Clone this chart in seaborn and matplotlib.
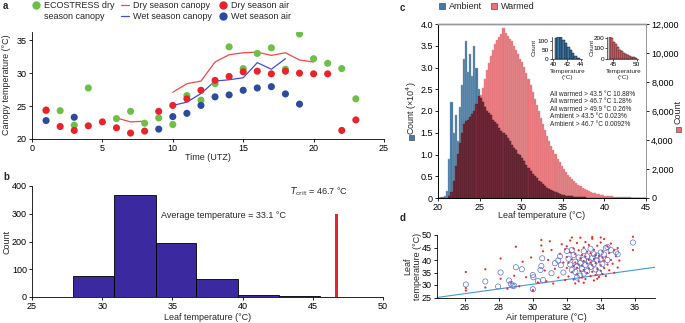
import numpy as np
import pandas as pd
import matplotlib
matplotlib.use("Agg")
import matplotlib.pyplot as plt
import seaborn as sns
from matplotlib.lines import Line2D
from matplotlib.patches import Patch, Rectangle

sns.set_theme(style="white")
plt.rcParams["font.family"] = ["Liberation Sans", "DejaVu Sans"]
plt.rcParams["font.size"] = 6.5
plt.rcParams["axes.linewidth"] = 0.6
plt.rcParams["xtick.major.width"] = 0.6
plt.rcParams["ytick.major.width"] = 0.6
plt.rcParams["xtick.major.size"] = 2.5
plt.rcParams["ytick.major.size"] = 2.5
plt.rcParams["xtick.direction"] = "out"
plt.rcParams["ytick.direction"] = "out"
plt.rcParams["xtick.major.pad"] = 1.2
plt.rcParams["ytick.major.pad"] = 1.2
plt.rcParams["xtick.bottom"] = True
plt.rcParams["ytick.left"] = True

FS = 6.5

# ---------------- panel a data ----------------
eco_hour = [1, 2, 3, 4, 6, 7, 8, 9, 10, 11, 12, 13, 14, 15, 16, 17, 18, 19, 20, 21, 22, 23]
eco_temp = [24.3, 24.3, 22.1, 27.75, 23.1, 24.2, 22.4, 23.2, 22.2, 26.6, 25.9, 28.4, 34.0, 30.7,
            33.0, 33.85, 30.6, 35.95, 32.2, 31.5, 30.7, 26.1]
dry_air_hour = [1, 2, 3, 4, 5, 6, 7, 8, 9, 10, 11, 12, 13, 14, 15, 16, 17, 18, 19, 20, 21, 22, 23]
dry_air_temp = [24.4, 21.9, 21.3, 22.0, 22.6, 21.7, 20.9, 21.2, 24.2, 25.1, 26.1, 27.4, 28.9, 29.5,
                30.2, 30.3, 29.9, 30.3, 30.0, 29.9, 29.9, 21.3, 22.9]
wet_air_hour = [1, 3, 9, 10, 11, 12, 13, 14, 15, 16, 17, 18, 19]
wet_air_temp = [22.8, 23.3, 21.5, 23.4, 23.9, 25.1, 26.4, 26.7, 27.4, 27.75, 27.95, 26.85, 25.3]
dry_can_hour = [6, 7, 8, 9, 10, 11, 12, 13, 14, 15, 16, 17, 18, 19, 20]
dry_can_temp = [23.2, 22.6, 22.7, np.nan, 27.1, 28.4, 28.8, 31.7, 32.8, 33.1, 33.2, 32.7, 33.1, 32.0, 31.7]
wet_can_hour = [10, 11, 12, 13, 14, 15, 16, 17, 18]
wet_can_temp = [25.1, 25.6, 26.9, 28.8, 29.0, 29.3, 31.6, 30.6, 32.2]

# ---------------- panel b data ----------------
b_edges = [27.9, 30.85, 33.8, 36.7, 39.65, 42.6, 45.5, 48.5]
b_counts = [75, 368, 193, 66, 8, 4, 1]
t_crit = 46.7
t_crit_height = 300

# ---------------- panel c data ----------------
c_edges = [round(20.0 + 0.25 * i, 2) for i in range(101)]
ambient_e4 = [0.01, 0.02, 0.03, 0.05, 0.15, 0.9, 2.2, 1.5, 1.9, 1.3,
              2.1, 2.6, 3.2, 3.6, 2.9, 3.3, 2.8, 3.5, 3.0, 2.5,
              2.3, 2.2, 2.1, 2.0, 1.95, 1.9, 1.8, 1.75, 1.7, 1.62,
              1.55, 1.5, 1.45, 1.38, 1.3, 1.22, 1.15, 1.1, 1.02, 0.98,
              0.93, 0.85, 0.75, 0.68, 0.62, 0.55, 0.5, 0.45, 0.4, 0.36,
              0.32, 0.28, 0.24, 0.21, 0.18, 0.15, 0.13, 0.11, 0.09, 0.08,
              0.06, 0.05, 0.045, 0.04, 0.035, 0.03, 0.025, 0.02, 0.018, 0.015,
              0.012, 0.01, 0.009, 0.008, 0.007, 0.006, 0.005, 0.005, 0.004, 0.004,
              0.003, 0.003, 0.003, 0.002, 0.002, 0.002, 0.002, 0.001, 0.001, 0.001,
              0.001, 0.001, 0.001, 0.001, 0.001, 0.0, 0.0, 0.0, 0.0, 0.0]
warmed = [0, 0, 0, 0, 30, 150, 400, 1200, 2200, 3000,
          3800, 4500, 5100, 5300, 5400, 5600, 5800, 6000, 6500, 7000,
          7100, 7600, 8200, 8800, 9300, 9800, 10200, 10600, 10900, 11100,
          11300, 11700, 11400, 11200, 11000, 10800, 10500, 10200, 9900, 9600,
          9400, 9000, 8600, 8200, 7800, 7300, 6800, 6400, 6000, 5500,
          5100, 4700, 4300, 3900, 3600, 3300, 3000, 2700, 2450, 2200,
          2000, 1800, 1600, 1450, 1300, 1150, 1020, 900, 800, 700,
          620, 550, 480, 420, 370, 320, 280, 250, 220, 190,
          170, 150, 130, 115, 100, 90, 80, 70, 60, 52,
          45, 40, 35, 30, 26, 22, 18, 15, 12, 10]
inset_amb_edges = [40.25, 40.6, 40.95, 41.3, 41.65, 42.0, 42.35, 42.7, 43.05, 43.4, 43.8]
inset_amb_counts = [120, 124, 124, 105, 90, 70, 50, 32, 18, 8]
inset_warm_edges = [44.1, 44.52, 44.94, 45.36, 45.78, 46.2, 46.62, 47.04, 47.46, 47.88, 48.3,
                    48.72, 49.14, 49.56, 50.0]
inset_warm_counts = [205, 200, 165, 140, 110, 90, 75, 60, 45, 35, 28, 20, 15, 10]
stats_lines = ["All warmed > 43.5 °C 10.88%", "All warmed > 46.7 °C 1.28%",
               "All warmed > 49.9 °C 0.26%", "Ambient > 43.5 °C 0.023%",
               "Ambient > 46.7 °C 0.0092%"]

# ---------------- panel d data ----------------
circ_air = [26.05, 27.2, 27.95, 28.1, 28.6, 28.7, 28.8, 28.9, 29.0, 29.35, 30.0, 30.0, 30.03,
            30.5, 30.55, 30.45, 30.6, 30.3, 31.1, 31.3, 31.5, 31.65, 32.0,
            32.1, 32.2, 32.3, 32.4, 32.5, 32.5, 32.6, 32.7, 32.8, 32.8, 32.9, 33.0, 33.0, 33.1,
            33.2, 33.2, 33.3, 33.4, 33.4, 33.5, 33.6, 33.6, 33.7, 33.8, 33.8, 33.9, 34.0, 34.0,
            34.1, 34.2, 34.3, 34.4, 34.4, 34.6, 34.9, 35.0, 35.9, 32.3, 32.6, 33.0, 31.8, 31.6]
circ_leaf = [30.2, 31.4, 29.4, 35.0, 31.8, 30.5, 29.7, 29.7, 37.1, 36.3, 28.3, 34.0, 33.1,
             37.6, 40.7, 36.0, 32.0, 31.6, 34.7, 38.7, 39.8, 37.9, 43.6,
             40.5, 38.2, 36.0, 42.0, 39.3, 35.2, 37.5, 41.0, 38.8, 33.8, 36.5, 40.2, 43.5, 38.0,
             35.5, 41.5, 39.5, 37.2, 44.5, 40.8, 38.5, 42.3, 36.2, 39.8, 41.8, 35.0, 40.5, 43.0,
             38.3, 42.2, 44.8, 40.0, 45.2, 44.0, 43.2, 42.3, 47.0, 44.0, 33.0, 34.5, 35.0, 41.5]
dot_air = [26.05, 26.05, 26.05, 27.2, 27.2, 28.1, 28.1, 28.5, 28.7, 28.9, 29.0, 29.2, 29.4, 29.6,
           29.9, 30.0, 30.0, 30.3, 30.5, 30.5, 30.6, 30.7, 30.8, 30.9, 31.0, 31.1, 31.2, 31.3,
           31.5, 31.6, 31.7, 31.8, 31.9,
           32.0, 32.0, 32.0, 32.1, 32.1, 32.2, 32.2, 32.3, 32.3, 32.4, 32.4, 32.4, 32.5, 32.5,
           32.6, 32.6, 32.6, 32.7, 32.7, 32.7, 32.8, 32.8, 32.8, 32.9, 32.9, 32.9, 33.0, 33.0,
           33.0, 33.1, 33.1, 33.1, 33.2, 33.2, 33.2, 33.3, 33.3, 33.3, 33.4, 33.4, 33.4, 33.5,
           33.5, 33.5, 33.6, 33.6, 33.6, 33.7, 33.7, 33.7, 33.8, 33.8, 33.9, 33.9, 33.9, 34.0,
           34.0, 34.0, 34.1, 34.1, 34.1, 34.2, 34.2, 34.2, 34.3, 34.3, 34.4, 34.4, 34.5, 34.5,
           34.6, 34.6, 34.7, 34.8, 34.9, 35.0, 35.1, 35.9, 35.9, 32.5, 33.0, 33.8, 34.8, 35.0,
           31.9, 32.3, 33.5, 34.0]
dot_leaf = [35.2, 27.8, 28.8, 36.3, 29.0, 40.6, 32.5, 28.5, 31.0, 33.7, 45.3, 29.5, 39.3, 33.1,
            41.0, 28.0, 27.6, 31.0, 48.0, 45.8, 43.5, 35.8, 31.5, 40.0, 47.5, 44.0, 30.6, 36.5,
            33.0, 42.5, 46.3, 39.0, 32.0,
            36.8, 41.2, 45.5, 33.4, 38.9, 43.0, 47.8, 35.1, 40.3, 32.2, 37.6, 44.6, 39.0, 42.4,
            34.3, 36.9, 46.8, 31.5, 38.2, 43.9, 35.6, 40.7, 48.9, 33.0, 37.8, 42.0, 36.0, 39.6,
            45.0, 32.4, 41.4, 47.2, 34.8, 38.6, 43.3, 36.7, 40.1, 46.0, 33.6, 39.0, 42.7, 35.3,
            37.9, 48.5, 31.8, 40.4, 44.1, 34.0, 38.7, 42.0, 36.4, 45.7, 33.2, 39.3, 41.6, 35.7,
            37.9, 47.0, 34.4, 40.9, 43.6, 36.8, 39.7, 48.4, 33.6, 41.3, 38.2, 45.4, 35.9, 42.8,
            40.0, 46.6, 38.5, 43.9, 41.5, 44.8, 39.8, 49.3, 44.0, 30.6, 30.9, 32.5, 34.9, 37.0,
            44.3, 49.0, 49.2, 49.0]
ref_air = [24.35, 37.2]
ref_leaf = [25.0, 37.1]

# ---------------- colours ----------------
GREEN = "#6cbf47"
RED = "#e8232b"
BLUE = "#2c4a9e"
RED_LINE = "#f2474a"
BLUE_LINE = "#3f4fd6"
BAR_B = "#3b2a9f"
AMB = "#3f7aa8"
WARM = "#ef7075"
OVER = "#7b2a3d"

W, H = 685, 323
fig = plt.figure(figsize=(W / 100, H / 100), dpi=100)


def pax(l, t, r, b):
    return fig.add_axes([l / W, 1 - b / H, (r - l) / W, (b - t) / H])


def ftext(x, y, s, **kw):
    return fig.text(x / W, 1 - y / H, s, **kw)


def style_lb(ax):
    sns.despine(ax=ax)
    for s in ("left", "bottom"):
        ax.spines[s].set_color("black")
    ax.tick_params(colors="black", labelsize=FS, length=2.5)


def centers_of(edges):
    return [(edges[i] + edges[i + 1]) / 2 for i in range(len(edges) - 1)]


# ================= panel a =================
axa = pax(32, 31.7, 384, 139)
axa.plot(dry_can_hour, dry_can_temp, color=RED_LINE, lw=0.9, zorder=2)
axa.plot(wet_can_hour, wet_can_temp, color=BLUE_LINE, lw=0.9, zorder=2)
sns.scatterplot(x=eco_hour, y=eco_temp, ax=axa, color=GREEN, s=26, edgecolor="none", zorder=3)
sns.scatterplot(x=dry_air_hour, y=dry_air_temp, ax=axa, color=RED, s=26, edgecolor="none", zorder=4)
sns.scatterplot(x=wet_air_hour, y=wet_air_temp, ax=axa, color=BLUE, s=26, edgecolor="none", zorder=4)
axa.set_xlim(0, 25)
axa.set_ylim(20, 36.3)
axa.set_xticks([0, 5, 10, 15, 20, 25])
axa.set_yticks([20, 25, 30, 35])
style_lb(axa)
ftext(208, 157, "Time (UTZ)", ha="center", va="center", fontsize=FS)
ftext(7, 85, "Canopy temperature (°C)", ha="center", va="center", rotation=90, fontsize=FS)

handles = [
    Line2D([], [], marker="o", ls="", color=GREEN, markersize=5),
    Line2D([], [], ls="", marker=""),
    Line2D([], [], color=RED_LINE, lw=0.9),
    Line2D([], [], color=BLUE_LINE, lw=0.9),
    Line2D([], [], marker="o", ls="", color=RED, markersize=5),
    Line2D([], [], marker="o", ls="", color=BLUE, markersize=5),
]
labels = ["ECOSTRESS dry", "season canopy", "Dry season canopy", "Wet season canopy",
          "Dry season air", "Wet season air"]
fig.legend(handles, labels, ncol=3, loc="upper left", bbox_to_anchor=(31 / W, 1 - 0 / H),
           frameon=False, fontsize=FS, handlelength=0.8, handletextpad=0.5,
           columnspacing=0.8, labelspacing=0.2, borderpad=0.1, borderaxespad=0)

# ================= panel b =================
axb = pax(32, 186, 383, 297)
sns.histplot(x=centers_of(b_edges), weights=b_counts, bins=b_edges, ax=axb, color=BAR_B, alpha=1,
             edgecolor="black", linewidth=0.6)
axb.bar([t_crit], [t_crit_height], width=0.25, color=RED, edgecolor="none")
axb.set_xlim(25, 50)
axb.set_ylim(0, 400)
axb.set_xticks([25, 30, 35, 40, 45, 50])
axb.set_yticks([0, 100, 200, 300, 400])
axb.set_ylabel("")
style_lb(axb)
axb.text(34.2, 295, "Average temperature = 33.1 °C", fontsize=FS, va="center", ha="left")
axb.text(43.4, 378, "$T_{\\rm crit}$ = 46.7 °C", fontsize=FS, va="center", ha="left")
ftext(208, 318, "Leaf temperature (°C)", ha="center", va="center", fontsize=FS)
ftext(7, 242, "Count", ha="center", va="center", rotation=90, fontsize=FS)

# ================= panel c =================
axc = pax(438, 24, 646, 198)
c_centers = centers_of(c_edges)
overlap = [min(a * 3000, w) for a, w in zip(ambient_e4, warmed)]
sns.histplot(x=c_centers, weights=ambient_e4, bins=c_edges, ax=axc, color=AMB, alpha=1,
             edgecolor="#9aa6b2", linewidth=0.3)
axc2 = axc.twinx()
sns.histplot(x=c_centers, weights=warmed, bins=c_edges, ax=axc2, color=WARM, alpha=1,
             edgecolor="#c9a0a2", linewidth=0.3)
sns.histplot(x=c_centers, weights=overlap, bins=c_edges, ax=axc2,
             color=OVER, alpha=1, edgecolor="#3a1a20", linewidth=0.3)
axc.set_xlim(20, 45)
axc.set_ylim(0, 4.0)
axc2.set_ylim(0, 12000)
axc.set_xticks([20, 25, 30, 35, 40, 45])
axc.set_yticks([0, 0.5, 1, 1.5, 2, 2.5, 3, 3.5, 4])
axc.set_yticklabels(["0", "0.5", "1.0", "1.5", "2.0", "2.5", "3.0", "3.5", "4.0"])
axc2.set_yticks([0, 2000, 4000, 6000, 8000, 10000, 12000])
axc2.set_yticklabels(["0", "2,000", "4,000", "6,000", "8,000", "10,000", "12,000"])
axc.set_ylabel("")
axc2.set_ylabel("")
for a in (axc, axc2):
    a.spines["top"].set_color("#999999")
    a.spines["right"].set_color("#999999")
    a.spines["left"].set_color("black")
    a.spines["bottom"].set_color("black")
    a.spines["top"].set_linewidth(1.0)
axc.tick_params(axis="both", labelsize=FS, length=2.5, colors="black")
axc2.tick_params(axis="y", labelsize=FS, length=2.5, colors="black", right=True)
ftext(542, 216, "Leaf temperature (°C)", ha="center", va="center", fontsize=FS)
ftext(411.5, 108, "Count (×10$^4$)", ha="center", va="center", rotation=90, fontsize=FS)
ftext(678, 112, "Count", ha="center", va="center", rotation=90, fontsize=FS)
fig.add_artist(Rectangle((409 / W, 1 - 139.5 / H), 5 / W, 5 / H, transform=fig.transFigure,
                         facecolor=AMB, edgecolor="#333333", lw=0.4))
fig.add_artist(Rectangle((675.5 / W, 1 - 131.5 / H), 5 / W, 5 / H, transform=fig.transFigure,
                         facecolor=WARM, edgecolor="#333333", lw=0.4))
fig.legend([Patch(facecolor=AMB, edgecolor="#333333", lw=0.4),
            Patch(facecolor=WARM, edgecolor="#333333", lw=0.4)], ["Ambient", "Warmed"],
           ncol=2, loc="upper left", bbox_to_anchor=(438 / W, 1 - 1 / H), frameon=False,
           fontsize=FS, handlelength=0.7, handleheight=0.7, handletextpad=0.4,
           columnspacing=1.0, borderpad=0.1, borderaxespad=0)
for i, s in enumerate(stats_lines):
    ftext(550, 94 + i * 7.6, s, fontsize=4.7, va="center", ha="left")

# insets
ins1 = pax(551.7, 36.7, 582.3, 59)
sns.histplot(x=centers_of(inset_amb_edges), weights=inset_amb_counts, bins=inset_amb_edges,
             ax=ins1, color=AMB, alpha=1, edgecolor="black", linewidth=0.3)
ins1.set_xlim(39.77, 44.2)
ins1.set_ylim(0, 126)
ins1.set_xticks([40, 42, 44])
ins1.set_yticks([0, 50, 100])
ins2 = pax(607.3, 36.7, 638.1, 59)
sns.histplot(x=centers_of(inset_warm_edges), weights=inset_warm_counts, bins=inset_warm_edges,
             ax=ins2, color=WARM, alpha=1, edgecolor="black", linewidth=0.3)
ins2.set_xlim(43.7, 50.3)
ins2.set_ylim(0, 212)
ins2.set_xticks([45, 50])
ins2.set_yticks([0, 100, 200])
for a in (ins1, ins2):
    sns.despine(ax=a)
    a.set_ylabel("")
    a.spines["left"].set_linewidth(0.5)
    a.spines["bottom"].set_linewidth(0.5)
    a.tick_params(labelsize=4.6, length=1.5, width=0.5, pad=0.8, colors="black")
ftext(534, 47, "Count", rotation=90, ha="center", va="center", fontsize=4.6)
ftext(591.7, 47, "Count", rotation=90, ha="center", va="center", fontsize=4.6)
ftext(567.3, 74.5, "Temperature\n(°C)", ha="center", va="center", fontsize=4.6, linespacing=1.1)
ftext(623.5, 74.5, "Temperature\n(°C)", ha="center", va="center", fontsize=4.6, linespacing=1.1)

# ================= panel d =================
axd = pax(437, 235, 655, 297.5)
axd.plot(ref_air, ref_leaf, color="#3d9ad8", lw=0.8, zorder=1)
sns.scatterplot(x=dot_air, y=dot_leaf, ax=axd, color="#ee2a2a", s=2.5, edgecolor="none", zorder=2)
sns.scatterplot(x=circ_air, y=circ_leaf, ax=axd, facecolor="none", edgecolor="#5d6fd0",
                s=14, linewidth=0.5, zorder=3)
axd.set_xlim(24.35, 37.2)
axd.set_ylim(25, 50)
axd.set_xticks([26, 28, 30, 32, 34, 36])
axd.set_yticks([25, 30, 35, 40, 45, 50])
style_lb(axd)
ftext(546, 318, "Air temperature (°C)", ha="center", va="center", fontsize=FS)
ftext(413, 266, "Leaf\ntemperature (°C)", ha="center", va="center", rotation=90, fontsize=FS,
      linespacing=1.1)

# panel letters
for x, y, s in [(3, 6, "a"), (3, 177, "b"), (400, 8, "c"), (400, 218, "d")]:
    ftext(x, y, s, fontweight="bold", fontsize=7, ha="left", va="center")

fig.savefig("out.png", dpi=100)
